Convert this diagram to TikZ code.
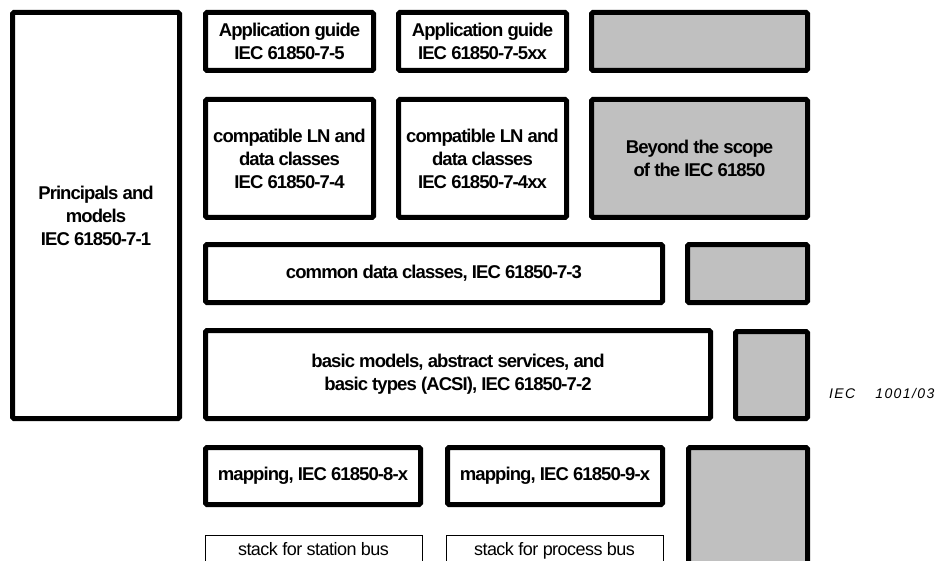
\documentclass[tikz,border=0pt]{standalone}
\usepackage{fontspec}
\setmainfont{Liberation Sans}
\definecolor{hatchgray}{RGB}{192,192,192}
\tikzset{
  box/.style={draw=black, line width=5pt, rounded corners=1.5pt, fill=white,
    align=center, inner sep=0pt,
    font=\fontsize{18.5}{23}\selectfont\bfseries\addfontfeature{LetterSpace=-5}},
  graybox/.style={box, fill=hatchgray},
  thinbox/.style={draw=black, line width=1pt, fill=white, align=center,
    inner xsep=0pt, inner ysep=7pt, text height=13.5pt, text depth=40pt,
    font=\fontsize{18}{20}\selectfont\addfontfeature{LetterSpace=-3}},
  idlabel/.style={inner sep=0pt, font=\fontsize{14}{16}\selectfont\itshape}
}
\begin{document}
\begin{tikzpicture}[x=1pt,y=-1pt]
\useasboundingbox (0,0) rectangle (941,561);
\clip (0,0) rectangle (941,561);

\node[box, minimum width=167pt, minimum height=406pt] (principals) at (96,215.5)
  {Principals and\\models\\IEC 61850-7-1};

\node[box, minimum width=168pt, minimum height=58pt] (app1) at (289.5,41.5)
  {Application guide\\IEC 61850-7-5};
\node[box, minimum width=168pt, minimum height=58pt] (app2) at (482.5,41.5)
  {Application guide\\IEC 61850-7-5xx};
\node[graybox, minimum width=216pt, minimum height=58pt] (gray1) at (699.5,41.5) {};

\node[box, minimum width=168pt, minimum height=118pt] (ln1) at (289.5,158.5)
  {compatible LN and\\data classes\\IEC 61850-7-4};
\node[box, minimum width=168pt, minimum height=118pt] (ln2) at (482.5,158.5)
  {compatible LN and\\data classes\\IEC 61850-7-4xx};
\node[graybox, minimum width=216pt, minimum height=118pt] (beyond) at (699.5,158.5)
  {Beyond the scope\\of the IEC 61850};

\node[box, minimum width=457pt, minimum height=58pt] (cdc) at (434,273.5)
  {common data classes, IEC 61850-7-3};
\node[graybox, minimum width=120pt, minimum height=58pt] (gray3) at (747.5,273.5) {};

\node[box, minimum width=505pt, minimum height=88pt] (acsi) at (458,374.5)
  {basic models, abstract services, and\\basic types (ACSI), IEC 61850-7-2};
\node[graybox, minimum width=72pt, minimum height=87pt] (gray4) at (771.5,375) {};

\node[box, minimum width=215pt, minimum height=57pt] (map8) at (313,476)
  {mapping, IEC 61850-8-x};
\node[box, minimum width=215pt, minimum height=57pt] (map9) at (555,476)
  {mapping, IEC 61850-9-x};
\node[graybox, minimum width=119pt, minimum height=172pt] (gray5) at (748,533.5) {};

\node[thinbox, anchor=north, minimum width=217pt] (stk1) at (313.5,534.5)
  {stack for station bus};
\node[thinbox, anchor=north, minimum width=217pt] (stk2) at (554.5,534.5)
  {stack for process bus};

\node[idlabel, anchor=base west] (iec) at (829,398)
  {\addfontfeature{LetterSpace=10}IEC\hspace*{20pt}1001/03};
\end{tikzpicture}
\end{document}
